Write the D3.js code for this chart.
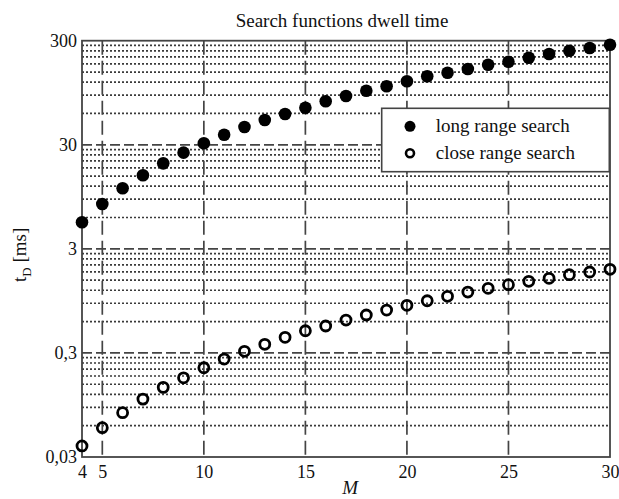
<!DOCTYPE html>
<html>
<head>
<meta charset="utf-8">
<script src="https://cdn.jsdelivr.net/npm/d3@7"></script>
<style>
  body { margin: 0; background: #fff; }
  text { font-family: "Liberation Serif", "Times New Roman", serif; fill: #111; }
</style>
</head>
<body>
<div id="chart"></div>
<script>
// data
var M = [4,5,6,7,8,9,10,11,12,13,14,15,16,17,18,19,20,21,22,23,24,25,26,27,28,29,30];
var longRange = [5.40,8.09,11.45,15.3,19.9,25.2,31.0,37.5,44.4,51.9,59.3,68.1,78.5,88.2,99.2,109.4,
                 122.2,136.5,147.7,160.3,176.3,188.4,206,223.5,240.5,255.2,274.4];
var closeRange = [0.0383,0.0574,0.0799,0.108,0.140,0.173,0.216,0.262,0.311,0.363,0.424,0.490,0.544,
                  0.621,0.694,0.775,0.860,0.952,1.05,1.154,1.253,1.357,1.463,1.564,1.693,1.797,1.908];
var xTicks = [4,5,10,15,20,25,30];
var yTicks = [0.03,0.3,3,30,300];
var yTickLabels = ["0,03","0,3","3","30","300"];
var legendLabels = ["long range search","close range search"];

var W = 619, H = 499;
var margin = {top: 40.7, right: 9, bottom: 42, left: 82};
var width = W - margin.left - margin.right,
    height = H - margin.top - margin.bottom;

var svg = d3.select("#chart")
  .append("svg")
    .attr("width", W)
    .attr("height", H)
  .append("g")
    .attr("transform", "translate(" + margin.left + "," + margin.top + ")");

var x = d3.scaleLinear().domain([4, 30]).range([0, width]);
var y = d3.scaleLog().domain([0.03, 300]).range([height, 0]);

// minor grid: k * decade start, k = 2..9
var minor = [];
yTicks.slice(0, 4).forEach(function(d) {
  for (var k = 2; k <= 9; k++) minor.push(d * k);
});

var gridColor = "#444";

svg.append("g").selectAll("line.minor")
  .data(minor)
  .enter().append("line")
    .attr("x1", 0).attr("x2", width)
    .attr("y1", function(d) { return y(d); })
    .attr("y2", function(d) { return y(d); })
    .attr("stroke", "#3a3a3a")
    .attr("stroke-width", 1.7)
    .attr("stroke-dasharray", "2,2");

svg.append("g").selectAll("line.major")
  .data(yTicks.slice(1, 4))
  .enter().append("line")
    .attr("x1", 0).attr("x2", width)
    .attr("y1", function(d) { return y(d); })
    .attr("y2", function(d) { return y(d); })
    .attr("stroke", gridColor)
    .attr("stroke-width", 1.8)
    .attr("stroke-dasharray", "10,4");

svg.append("g").selectAll("line.vgrid")
  .data(xTicks.slice(1, 6))
  .enter().append("line")
    .attr("x1", function(d) { return x(d); })
    .attr("x2", function(d) { return x(d); })
    .attr("y1", 0).attr("y2", height)
    .attr("stroke", gridColor)
    .attr("stroke-width", 1.7)
    .attr("stroke-dasharray", "14,6");

// frame
svg.append("rect")
  .attr("width", width).attr("height", height)
  .attr("fill", "none")
  .attr("stroke", gridColor)
  .attr("stroke-width", 1.8);

// axes
var xAxis = svg.append("g")
  .attr("transform", "translate(0," + height + ")")
  .call(d3.axisBottom(x).tickValues(xTicks).tickSize(0).tickPadding(8).tickFormat(d3.format("d")));
xAxis.select(".domain").remove();
xAxis.selectAll("text").style("font-size", "18px").attr("fill", "#111");

var yAxis = svg.append("g")
  .call(d3.axisLeft(y).tickValues(yTicks).tickSize(0).tickPadding(5)
    .tickFormat(function(d, i) { return yTickLabels[i]; }));
yAxis.select(".domain").remove();
yAxis.selectAll("text").style("font-size", "18px").attr("fill", "#111");

// title and labels
svg.append("text")
  .attr("x", width / 2 - 4)
  .attr("y", -14)
  .attr("text-anchor", "middle")
  .style("font-size", "19px")
  .text("Search functions dwell time");

svg.append("text")
  .attr("x", x(17.2))
  .attr("y", height + 37)
  .attr("text-anchor", "middle")
  .style("font-size", "19px")
  .style("font-style", "italic")
  .text("M");

var yl = svg.append("text")
  .attr("transform", "translate(" + (-56) + "," + (height / 2 + 6) + ") rotate(-90)")
  .attr("text-anchor", "middle")
  .style("font-size", "19px");
yl.append("tspan").text("t");
yl.append("tspan").attr("dy", 5).style("font-size", "13px").text("D");
yl.append("tspan").attr("dy", -5).text(" [ms]");

// markers
svg.append("g").selectAll("circle.long")
  .data(M)
  .enter().append("circle")
    .attr("cx", function(d) { return x(d); })
    .attr("cy", function(d, i) { return y(longRange[i]); })
    .attr("r", 6.3)
    .attr("fill", "#000");

svg.append("g").selectAll("circle.close")
  .data(M)
  .enter().append("circle")
    .attr("cx", function(d) { return x(d); })
    .attr("cy", function(d, i) { return y(closeRange[i]); })
    .attr("r", 5)
    .attr("fill", "none")
    .attr("stroke", "#000")
    .attr("stroke-width", 2.8);

// legend
var lg = svg.append("g").attr("transform", "translate(" + (381.7 - margin.left) + "," + (108.3 - margin.top) + ")");
lg.append("rect")
  .attr("width", 227.6).attr("height", 63.4)
  .attr("fill", "#fff")
  .attr("stroke", gridColor)
  .attr("stroke-width", 1.6);
lg.append("circle").attr("cx", 28.3).attr("cy", 18).attr("r", 5.5).attr("fill", "#000");
lg.append("circle").attr("cx", 28.3).attr("cy", 45).attr("r", 4).attr("fill", "none")
  .attr("stroke", "#000").attr("stroke-width", 2.6);
lg.selectAll("text.leg")
  .data(legendLabels)
  .enter().append("text")
    .attr("x", 54)
    .attr("y", function(d, i) { return 24 + i * 27; })
    .style("font-size", "19px")
    .text(function(d) { return d; });
</script>
</body>
</html>
